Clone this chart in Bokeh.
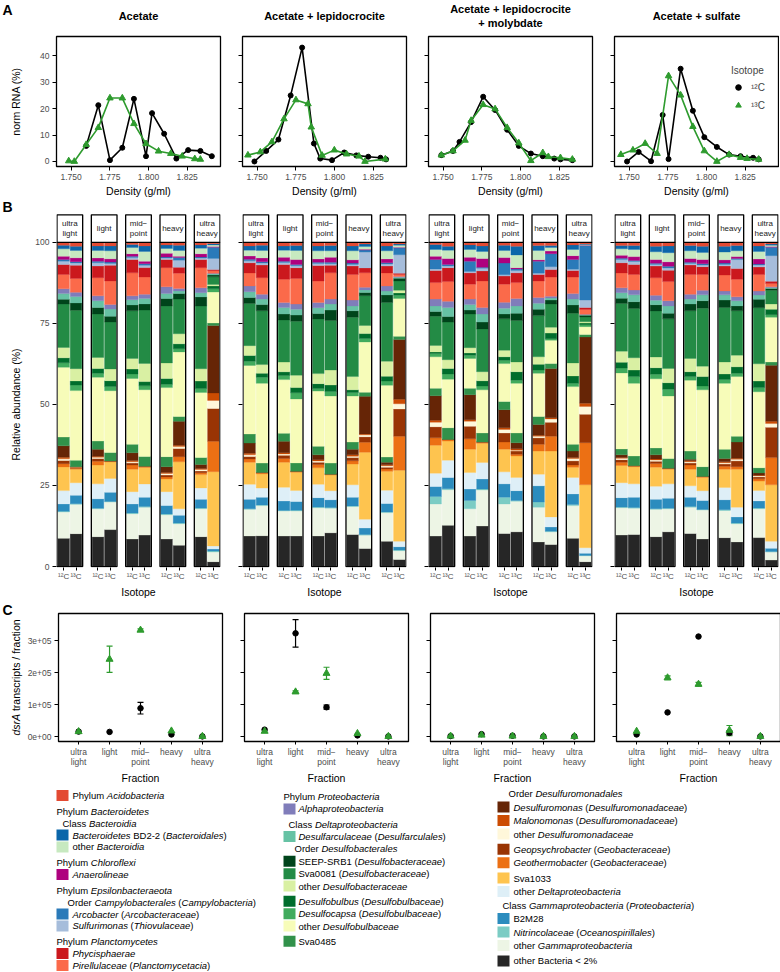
import math
from bokeh.plotting import figure
from bokeh.layouts import column, row
from bokeh.models import (ColumnDataSource, FactorRange, Range1d, FixedTicker,
                          NumeralTickFormatter, Legend, LegendItem, Whisker, TeeHead)
from bokeh.core.properties import value, field
from bokeh.embed import file_html
from bokeh.resources import INLINE

FONT = "Liberation Sans"
GREEN = "#2E9B2E"
TICK_GREY = "#4D4D4D"

# ---------------- shared categories ----------------
treatments = ["Acetate", "Acetate + lepidocrocite", "Acetate + lepidocrocite\n+ molybdate", "Acetate + sulfate"]
isotopes = ["\u00b9\u00b2C", "\u00b9\u00b3C"]

# ---------------- panel A : density profiles ----------------
a_xticks = [1.750, 1.775, 1.800, 1.825]
a_yticks = [0, 10, 20, 30, 40]

ac_d12 = [1.7598, 1.7676, 1.7751, 1.7831, 1.7906, 1.7984, 1.8023, 1.8101, 1.8180, 1.8256, 1.8335, 1.8409]
ac_r12 = [5.9, 21.3, 0.5, 5.2, 23.7, 2.0, 18.3, 10.5, 1.1, 4.3, 4.0, 2.0]
ac_d13 = [1.7485, 1.7521, 1.7598, 1.7676, 1.7751, 1.7831, 1.7906, 1.7984, 1.8065, 1.8144, 1.8218, 1.8299, 1.8335]
ac_r13 = [0.2, 0.0, 6.4, 12.8, 24.0, 24.0, 14.3, 6.7, 3.9, 3.0, 2.0, 1.0, 0.8]

lp_d12 = [1.7483, 1.7559, 1.7638, 1.7717, 1.7791, 1.7867, 1.7908, 1.7984, 1.8063, 1.8141, 1.8218, 1.8297, 1.8333]
lp_r12 = [0.0, 4.0, 8.3, 25.0, 43.1, 6.8, 1.1, 0.5, 3.4, 2.3, 1.8, 1.4, 0.8]
lp_d13 = [1.7441, 1.7521, 1.7596, 1.7674, 1.7751, 1.7829, 1.7850, 1.7920, 1.7999, 1.8078, 1.8158, 1.8197, 1.8328]
lp_r13 = [2.4, 3.6, 7.4, 16.1, 23.3, 21.8, 13.0, 2.3, 4.3, 2.8, 2.0, 0.0, 0.9]

mo_d12 = [1.7489, 1.7564, 1.7606, 1.7681, 1.7759, 1.7836, 1.7914, 1.7989, 1.8067, 1.8144, 1.8218, 1.8258, 1.8335]
mo_r12 = [2.4, 4.0, 7.4, 14.9, 24.5, 19.5, 12.0, 5.9, 3.0, 2.0, 1.1, 0.8, 0.5]
mo_d13 = [1.7489, 1.7564, 1.7642, 1.7681, 1.7759, 1.7836, 1.7914, 1.7989, 1.8067, 1.8144, 1.8180, 1.8258, 1.8335]
mo_r13 = [2.4, 4.0, 8.0, 15.5, 21.5, 19.9, 12.8, 7.0, 0.3, 3.3, 1.8, 1.4, 0.8]

su_d12 = [1.7487, 1.7562, 1.7642, 1.7717, 1.7755, 1.7833, 1.7912, 1.7986, 1.8067, 1.8146, 1.8220, 1.8301, 1.8337]
su_r12 = [0.0, 3.6, 0.1, 17.6, 0.9, 35.1, 19.2, 9.2, 5.5, 2.6, 2.0, 1.4, 0.8]
su_d13 = [1.7447, 1.7525, 1.7604, 1.7681, 1.7755, 1.7833, 1.7912, 1.7986, 1.8067, 1.8146, 1.8220, 1.8262, 1.8337]
su_r13 = [2.6, 4.3, 6.8, 3.0, 32.4, 25.1, 13.2, 4.0, 0.0, 2.6, 1.5, 1.1, 0.8]

# ---------------- panel B : community composition ----------------
b_fractions = ["ultra light", "light", "mid-point", "heavy", "ultra heavy"]
b_strip_labels = ["ultra\nlight", "light", "mid\u2212\npoint", "heavy", "ultra\nheavy"]
b_yticks = [0, 25, 50, 75, 100]

# taxa in stacking order (bottom -> top)
taxa = ["other Bacteria < 2%", "other Gammaproteobacteria", "Nitrincolaceae", "B2M28",
        "other Deltaproteobacteria", "Sva1033", "Geothermobacter", "Geopsychrobacter",
        "other Desulfuromonadaceae", "Malonomonas", "Desulfuromonas", "Sva0485",
        "other Desulfobulbaceae", "Desulfocapsa", "Desulfobulbus", "other Desulfobacteraceae",
        "Sva0081", "SEEP-SRB1", "Desulfarculaceae", "Alphaproteobacteria", "Pirellulaceae",
        "Phycisphaerae", "Sulfurimonas", "Arcobacter", "Anaerolineae", "other Bacteroidia",
        "Bacteroidetes BD2-2", "Acidobacteria"]
taxa_colors = ["#262626", "#EDF5E5", "#7BCCC4", "#2B8CBE", "#DEEFF7", "#FEC44F", "#EC7014",
               "#993404", "#FFF7DA", "#CC4C02", "#662506", "#31914A", "#F7FCB9", "#41AB5D",
               "#006D2C", "#D9F0A3", "#238B45", "#00441B", "#66C2A4", "#807DBA", "#FB6A4A",
               "#CB181D", "#A6BDDB", "#2A7AB9", "#AE017E", "#C7E9C0", "#0B66AA", "#E34A33"]

# Acetate
b_ac_ul_12 = [8.7, 8.1, 0.2, 2.3, 4.1, 7.3, 1.0, 1.0, 0.5, 0.5, 3.5, 2.7, 21.5, 1.4, 1.5, 3.2, 13.4, 1.5, 1.7, 1.5, 4.4, 3.1, 1.0, 0.5, 1.0, 2.3, 1.1, 0.9]
b_ac_ul_13 = [10.2, 9.1, 0.2, 2.6, 3.9, 4.2, 0.3, 0.2, 0.1, 0.1, 0.1, 2.0, 21.6, 1.7, 1.3, 3.8, 18.1, 2.3, 2.0, 1.3, 4.3, 4.1, 0.7, 0.4, 1.2, 2.3, 1.3, 1.2]
b_ac_li_12 = [9.2, 8.6, 0.2, 2.9, 4.6, 5.8, 1.2, 0.8, 0.4, 0.3, 2.2, 2.5, 19.7, 1.2, 1.5, 3.4, 13.4, 2.0, 2.1, 1.5, 5.6, 3.6, 1.0, 0.5, 1.0, 2.3, 1.4, 1.1]
b_ac_li_13 = [11.4, 8.5, 0.2, 2.8, 4.3, 5.1, 0.2, 0.1, 0.0, 0.0, 0.0, 2.6, 19.1, 1.3, 1.8, 3.6, 14.5, 1.8, 2.2, 1.4, 7.3, 4.8, 0.6, 0.4, 1.0, 2.5, 1.5, 1.1]
b_ac_mp_12 = [8.5, 7.8, 0.2, 2.8, 3.8, 6.9, 1.3, 0.6, 0.4, 0.4, 2.4, 2.6, 20.3, 1.4, 1.5, 3.3, 14.7, 1.8, 1.6, 1.2, 7.1, 4.1, 0.6, 0.4, 0.8, 1.9, 0.9, 0.7]
b_ac_mp_13 = [9.7, 8.6, 0.2, 2.9, 4.1, 5.1, 0.3, 0.1, 0.0, 0.0, 0.0, 3.0, 20.6, 1.2, 1.3, 5.6, 16.5, 1.9, 1.7, 1.3, 5.3, 2.9, 0.7, 0.5, 0.8, 3.0, 1.7, 1.1]
b_ac_he_12 = [8.5, 7.5, 0.2, 2.6, 4.3, 3.9, 0.6, 0.6, 0.5, 0.3, 1.8, 3.1, 21.3, 1.0, 1.8, 4.8, 17.6, 2.3, 1.5, 2.1, 5.9, 2.5, 0.5, 0.3, 1.1, 1.5, 1.1, 0.8]
b_ac_he_13 = [6.6, 6.6, 0.2, 2.4, 2.0, 14.5, 1.6, 2.5, 0.6, 0.4, 7.4, 1.5, 19.9, 1.0, 1.5, 3.1, 10.7, 1.7, 0.8, 0.8, 4.7, 1.8, 2.2, 0.8, 0.4, 1.8, 1.6, 0.9]
b_ac_uh_12 = [9.2, 8.6, 0.2, 2.7, 3.5, 4.1, 0.6, 0.5, 0.5, 0.3, 1.2, 2.2, 20.0, 1.2, 2.3, 3.8, 19.3, 2.8, 1.3, 1.5, 6.2, 2.5, 0.5, 0.3, 1.0, 1.7, 1.0, 0.8]
b_ac_uh_13 = [1.5, 3.0, 0.3, 0.6, 1.0, 23.0, 9.4, 10.2, 2.5, 2.3, 20.9, 0.8, 9.6, 1.0, 0.9, 0.4, 2.4, 0.6, 0.3, 0.2, 0.8, 0.4, 3.4, 3.5, 0.2, 0.5, 0.4, 0.4]
# Acetate + lepidocrocite
b_lp_ul_12 = [9.4, 8.2, 0.2, 2.9, 4.6, 6.8, 1.0, 0.8, 0.5, 0.5, 3.1, 2.8, 21.1, 1.3, 1.8, 3.0, 13.0, 1.8, 1.8, 1.8, 4.0, 3.1, 0.6, 0.5, 1.0, 1.8, 1.3, 1.1]
b_lp_ul_13 = [9.5, 9.3, 0.2, 2.4, 2.8, 4.4, 0.3, 0.1, 0.0, 0.0, 0.0, 2.9, 24.6, 1.9, 1.2, 2.7, 16.6, 1.9, 1.7, 1.5, 5.1, 3.9, 0.6, 0.4, 1.2, 2.3, 1.6, 0.9]
b_lp_li_12 = [9.4, 7.7, 0.2, 2.9, 4.2, 7.7, 1.2, 1.0, 0.4, 0.4, 3.5, 2.5, 16.5, 1.3, 1.1, 3.0, 13.0, 1.8, 2.0, 1.6, 7.1, 4.6, 0.6, 0.4, 1.2, 2.2, 1.3, 1.1]
b_lp_li_13 = [9.4, 7.7, 0.2, 2.7, 3.4, 5.6, 0.3, 0.0, 0.0, 0.0, 0.0, 2.6, 19.7, 1.9, 1.6, 3.8, 16.6, 1.9, 1.8, 1.6, 7.9, 3.3, 0.6, 0.4, 1.5, 2.8, 1.5, 1.0]
b_lp_mp_12 = [9.4, 8.7, 0.2, 2.9, 4.1, 5.1, 1.0, 0.7, 0.4, 0.4, 1.5, 2.6, 17.0, 0.8, 1.5, 3.1, 16.8, 1.7, 1.8, 1.6, 6.6, 4.8, 0.6, 0.4, 1.0, 2.5, 1.5, 1.1]
b_lp_mp_13 = [10.4, 7.6, 0.2, 2.4, 2.8, 4.8, 0.3, 0.0, 0.0, 0.0, 0.0, 3.4, 20.7, 1.4, 2.0, 4.6, 15.3, 3.2, 1.9, 1.5, 8.1, 2.3, 0.5, 0.5, 1.5, 2.0, 1.6, 1.0]
b_lp_he_12 = [9.9, 8.6, 0.2, 2.7, 3.8, 6.4, 1.0, 1.0, 0.4, 0.5, 1.7, 2.2, 14.2, 1.1, 0.8, 4.1, 18.3, 2.0, 1.5, 1.8, 7.9, 2.6, 0.5, 0.4, 1.0, 2.8, 1.5, 1.1]
b_lp_he_13 = [5.6, 4.1, 0.2, 2.0, 2.7, 20.7, 3.1, 1.7, 0.6, 0.3, 11.6, 1.3, 15.5, 1.1, 1.5, 2.5, 9.2, 1.0, 0.8, 0.8, 4.5, 1.5, 4.9, 0.6, 0.3, 0.8, 0.8, 0.5]
b_lp_uh_12 = [7.8, 8.8, 0.2, 2.6, 4.1, 5.8, 0.7, 0.6, 0.4, 0.3, 0.8, 1.6, 22.1, 1.3, 1.5, 4.6, 18.1, 2.3, 1.2, 1.6, 4.0, 2.1, 0.6, 0.4, 1.2, 2.5, 1.5, 1.1]
b_lp_uh_13 = [2.2, 2.7, 0.2, 1.0, 1.7, 21.9, 10.5, 8.4, 1.6, 1.4, 18.4, 1.0, 11.7, 1.0, 0.7, 0.8, 2.9, 0.8, 0.3, 0.3, 0.6, 0.4, 5.7, 2.1, 0.2, 0.6, 0.4, 0.5]
# Acetate + lepidocrocite + molybdate
b_mo_ul_12 = [9.4, 9.9, 2.3, 3.1, 4.1, 8.6, 2.3, 3.4, 1.4, 0.6, 7.6, 2.3, 9.7, 1.0, 0.5, 2.0, 9.0, 1.5, 1.7, 2.1, 5.1, 3.7, 0.5, 2.9, 1.0, 2.1, 1.5, 0.7]
b_mo_ul_13 = [12.7, 11.0, 0.3, 3.5, 5.3, 5.9, 0.5, 0.0, 0.0, 0.0, 0.0, 3.6, 15.0, 1.6, 1.7, 2.7, 11.6, 1.7, 2.8, 1.9, 6.1, 4.3, 0.5, 0.5, 1.8, 2.6, 1.2, 1.2]
b_mo_li_12 = [9.4, 8.4, 2.6, 3.5, 5.1, 7.2, 3.2, 3.9, 1.5, 0.5, 7.7, 2.0, 9.2, 1.0, 0.7, 1.6, 10.4, 1.2, 1.7, 1.7, 4.6, 3.5, 0.4, 3.2, 1.2, 2.4, 1.4, 0.8]
b_mo_li_13 = [12.5, 11.1, 0.3, 3.1, 5.1, 5.9, 0.4, 0.0, 0.0, 0.0, 0.0, 2.8, 13.3, 1.2, 1.6, 2.8, 13.2, 2.1, 2.5, 2.0, 8.2, 3.1, 0.8, 0.3, 2.7, 2.2, 1.7, 1.1]
b_mo_mp_12 = [10.2, 9.1, 2.1, 4.1, 3.7, 7.0, 2.2, 2.8, 1.1, 0.5, 5.6, 2.5, 11.7, 1.0, 1.1, 2.0, 9.7, 1.5, 1.8, 1.8, 5.6, 2.5, 0.4, 3.6, 1.7, 2.2, 1.6, 0.9]
b_mo_mp_13 = [10.7, 9.4, 0.3, 3.0, 4.1, 6.6, 0.5, 1.0, 0.3, 0.4, 1.9, 3.0, 15.3, 1.0, 2.6, 3.0, 12.8, 2.2, 2.3, 2.3, 4.9, 3.0, 0.7, 0.5, 0.4, 3.9, 2.7, 1.2]
b_mo_he_12 = [7.6, 10.7, 1.6, 5.0, 3.6, 7.1, 2.1, 2.0, 0.5, 0.3, 3.3, 2.5, 13.3, 1.0, 1.8, 2.3, 12.7, 2.0, 1.8, 1.8, 5.1, 2.0, 0.4, 3.7, 0.4, 2.9, 1.5, 1.0]
b_mo_he_13 = [6.8, 3.9, 0.2, 1.3, 3.1, 20.3, 4.6, 4.3, 1.0, 0.4, 15.2, 1.5, 7.2, 0.5, 1.7, 1.8, 7.2, 1.2, 0.6, 0.6, 5.9, 2.3, 0.9, 4.0, 0.8, 1.1, 0.6, 1.0]
b_mo_uh_12 = [8.7, 10.1, 0.3, 3.3, 5.1, 3.1, 0.7, 1.3, 0.7, 0.3, 2.0, 2.1, 17.8, 1.0, 2.3, 4.0, 15.3, 2.6, 1.8, 1.7, 5.1, 2.0, 0.4, 3.0, 1.2, 1.9, 1.4, 0.8]
b_mo_uh_13 = [1.5, 1.8, 0.1, 0.7, 1.7, 19.4, 13.0, 8.8, 2.4, 1.0, 20.4, 0.8, 2.4, 0.6, 0.5, 0.4, 1.5, 0.5, 0.2, 0.1, 1.5, 0.6, 2.3, 16.8, 0.1, 0.2, 0.2, 0.5]
# Acetate + sulfate
b_su_ul_12 = [9.7, 8.4, 0.2, 2.9, 4.6, 5.3, 1.0, 0.8, 0.4, 0.3, 0.8, 1.8, 23.4, 1.5, 1.8, 3.4, 14.7, 1.6, 1.7, 1.5, 4.6, 3.1, 1.0, 0.4, 0.9, 2.0, 1.0, 1.0]
b_su_ul_13 = [9.9, 8.1, 0.2, 3.2, 4.1, 5.3, 0.3, 0.0, 0.0, 0.0, 0.0, 3.0, 22.4, 2.1, 2.0, 3.8, 15.2, 2.1, 2.1, 1.5, 4.8, 3.1, 0.9, 0.3, 1.2, 2.2, 1.2, 1.0]
b_su_li_12 = [9.2, 8.4, 0.2, 2.9, 4.0, 5.9, 1.1, 0.7, 0.4, 0.3, 1.3, 2.1, 21.3, 1.4, 2.0, 3.3, 14.2, 1.9, 1.4, 1.5, 5.4, 3.6, 0.5, 0.4, 1.1, 2.4, 1.7, 1.2]
b_su_li_13 = [10.7, 7.1, 0.2, 3.1, 4.4, 4.5, 0.3, 0.0, 0.0, 0.0, 0.0, 3.0, 19.3, 2.1, 2.0, 4.4, 15.3, 1.7, 2.3, 1.6, 5.9, 3.5, 0.7, 0.5, 1.4, 2.8, 2.1, 1.1]
b_su_mp_12 = [10.2, 8.1, 0.2, 2.9, 3.5, 5.1, 1.3, 0.6, 0.4, 0.3, 0.5, 2.5, 21.9, 1.1, 1.5, 4.1, 14.7, 2.1, 1.5, 1.5, 6.1, 2.9, 0.5, 0.4, 1.1, 2.4, 1.6, 1.0]
b_su_mp_13 = [8.5, 8.9, 0.2, 2.8, 3.0, 4.1, 0.3, 0.0, 0.0, 0.0, 0.0, 3.0, 23.7, 1.2, 2.9, 3.2, 17.9, 2.3, 1.8, 1.4, 4.9, 2.4, 0.5, 0.4, 1.3, 2.2, 1.9, 1.2]
b_su_he_12 = [8.9, 8.4, 0.2, 3.1, 3.8, 5.6, 0.9, 0.7, 0.4, 0.3, 1.0, 2.9, 20.3, 1.2, 1.7, 3.7, 16.8, 2.3, 1.6, 1.2, 4.9, 2.8, 0.5, 0.4, 1.0, 2.4, 1.8, 1.2]
b_su_he_13 = [7.6, 5.6, 0.2, 1.9, 3.0, 11.7, 0.8, 1.8, 0.5, 0.3, 5.0, 1.8, 18.4, 1.0, 2.0, 3.6, 13.7, 1.5, 1.6, 1.2, 5.4, 3.3, 2.8, 0.3, 0.6, 1.8, 1.6, 1.0]
b_su_uh_12 = [8.9, 8.9, 0.2, 2.2, 3.2, 2.9, 0.7, 0.6, 0.3, 0.2, 0.7, 1.6, 23.4, 1.3, 2.0, 5.3, 17.3, 2.6, 1.3, 1.2, 5.1, 2.3, 0.6, 0.3, 1.6, 2.3, 1.7, 1.1]
b_su_uh_13 = [2.0, 2.5, 0.1, 1.0, 2.2, 17.4, 8.4, 9.4, 1.1, 0.7, 17.3, 1.0, 13.8, 0.8, 1.7, 1.6, 4.2, 0.6, 0.3, 0.2, 1.0, 0.7, 7.9, 2.6, 0.2, 0.4, 0.4, 0.5]

# ---------------- panel C : dsrA transcripts ----------------
c_fractions = ["ultra\nlight", "light", "mid\u2212\npoint", "heavy", "ultra\nheavy"]
c_yticks = [0, 100000, 200000, 300000]
c_ytick_labels = ["0e+00", "1e+05", "2e+05", "3e+05"]

c_ac_12 = [16000, 15000, 89000, 7000, 1000]
c_ac_12_lo = [16000, 15000, 71000, 7000, 1000]
c_ac_12_hi = [16000, 15000, 107000, 7000, 1000]
c_ac_13 = [16000, 242000, 333000, 18000, 1000]
c_ac_13_lo = [16000, 201000, 329000, 18000, 1000]
c_ac_13_hi = [16000, 283000, 337000, 18000, 1000]

c_lp_12 = [22000, 323000, 92000, 4000, 1000]
c_lp_12_lo = [22000, 280000, 86000, 4000, 1000]
c_lp_12_hi = [22000, 366000, 99000, 4000, 1000]
c_lp_13 = [17000, 140000, 198000, 10000, 1000]
c_lp_13_lo = [17000, 137000, 179000, 10000, 1000]
c_lp_13_hi = [17000, 143000, 217000, 10000, 1000]

c_mo_12 = [2000, 8000, 3000, 1000, 1000]
c_mo_12_lo = [2000, 8000, 3000, 1000, 1000]
c_mo_12_hi = [2000, 8000, 3000, 1000, 1000]
c_mo_13 = [2000, 5000, 2000, 1000, 1000]
c_mo_13_lo = [2000, 5000, 2000, 1000, 1000]
c_mo_13_hi = [2000, 5000, 2000, 1000, 1000]

c_su_12 = [7000, 76000, 313000, 12000, 1000]
c_su_12_lo = [7000, 76000, 313000, 6000, 1000]
c_su_12_hi = [7000, 76000, 313000, 18000, 1000]
c_su_13 = [17000, 184000, 164000, 20000, 1000]
c_su_13_lo = [17000, 178000, 158000, 3000, 1000]
c_su_13_hi = [17000, 190000, 170000, 35000, 1000]

# ---------------- grouping ----------------
A_DATA = [(ac_d12, ac_r12, ac_d13, ac_r13), (lp_d12, lp_r12, lp_d13, lp_r13),
          (mo_d12, mo_r12, mo_d13, mo_r13), (su_d12, su_r12, su_d13, su_r13)]
B_DATA = [
    [b_ac_ul_12, b_ac_ul_13, b_ac_li_12, b_ac_li_13, b_ac_mp_12, b_ac_mp_13, b_ac_he_12, b_ac_he_13, b_ac_uh_12, b_ac_uh_13],
    [b_lp_ul_12, b_lp_ul_13, b_lp_li_12, b_lp_li_13, b_lp_mp_12, b_lp_mp_13, b_lp_he_12, b_lp_he_13, b_lp_uh_12, b_lp_uh_13],
    [b_mo_ul_12, b_mo_ul_13, b_mo_li_12, b_mo_li_13, b_mo_mp_12, b_mo_mp_13, b_mo_he_12, b_mo_he_13, b_mo_uh_12, b_mo_uh_13],
    [b_su_ul_12, b_su_ul_13, b_su_li_12, b_su_li_13, b_su_mp_12, b_su_mp_13, b_su_he_12, b_su_he_13, b_su_uh_12, b_su_uh_13],
]
C_DATA = [
    (c_ac_12, c_ac_12_lo, c_ac_12_hi, c_ac_13, c_ac_13_lo, c_ac_13_hi),
    (c_lp_12, c_lp_12_lo, c_lp_12_hi, c_lp_13, c_lp_13_lo, c_lp_13_hi),
    (c_mo_12, c_mo_12_lo, c_mo_12_hi, c_mo_13, c_mo_13_lo, c_mo_13_hi),
    (c_su_12, c_su_12_lo, c_su_12_hi, c_su_13, c_su_13_lo, c_su_13_hi),
]

# ---------------- layout helpers ----------------
PAGE_W = 779
LEFT_W = 24
FRAME_W = 164
BORDERS = [(32, 11), (11, 11), (11, 11), (11, 1)]


def base_fig(i, frame_h, top, bottom, x_range, y_range, yticks):
    lb, rb = BORDERS[i]
    p = figure(frame_width=FRAME_W, frame_height=frame_h, min_border_left=lb, min_border_right=rb,
               min_border_top=top, min_border_bottom=bottom, x_range=x_range, y_range=y_range,
               output_backend="svg", toolbar_location=None)
    p.xgrid.grid_line_color = None
    p.ygrid.grid_line_color = None
    for ax in p.axis:
        ax.axis_line_color = None
        ax.major_tick_line_color = "black"
        ax.major_tick_line_width = 1
        ax.major_tick_out = 4
        ax.major_tick_in = 0
        ax.minor_tick_line_color = None
        ax.major_label_text_font = FONT
        ax.major_label_text_font_size = "8.5px"
        ax.major_label_text_color = TICK_GREY
        ax.major_label_standoff = 3
        ax.axis_label_text_font = FONT
        ax.axis_label_text_font_size = "10.5px"
        ax.axis_label_text_font_style = "normal"
        ax.axis_label_text_color = "black"
        ax.axis_label_standoff = 2
    p.yaxis.ticker = FixedTicker(ticks=yticks)
    if i > 0:
        p.yaxis.major_label_overrides = {t: "" for t in yticks}
    return p


def text_fig(width, height, flip=False):
    yr = Range1d(height, 0) if flip else Range1d(0, height)
    f = figure(width=width, height=height, x_range=Range1d(0, width), y_range=yr,
               min_border=0, x_axis_location=None, y_axis_location=None,
               output_backend="svg", toolbar_location=None)
    f.outline_line_color = None
    f.grid.visible = False
    return f


def put_text(f, x, y, text, size, style="normal", align="left", angle=0.0, line_height=1.2):
    f.text(x=[x], y=[y], text=[text], text_font=value(FONT), text_font_size=size,
           text_font_style=style, text_align=align, text_baseline="middle", angle=angle,
           text_line_height=line_height, text_color="black")


# ---------------- panel A ----------------
A_TOP, A_FH, A_BOT, A_HDR = 2, 130, 32, 34
a_figs = []
for i in range(4):
    d12, r12, d13, r13 = A_DATA[i]
    p = base_fig(i, A_FH, A_TOP, A_BOT, Range1d(1.7406, 1.8465), Range1d(-1.9, 47.3), a_yticks)
    p.outline_line_color = "black"
    p.outline_line_width = 1.3
    p.line(d12, r12, line_color="black", line_width=1.6)
    s12 = p.scatter(d12, r12, marker="circle", size=5, fill_color="black", line_color="black")
    p.line(d13, r13, line_color=GREEN, line_width=1.6)
    s13 = p.scatter(d13, r13, marker="triangle", size=6.5, fill_color=GREEN, line_color=GREEN)
    p.xaxis.ticker = FixedTicker(ticks=a_xticks)
    p.xaxis.formatter = NumeralTickFormatter(format="0.000")
    p.xaxis.axis_label = "Density (g/ml)"
    if i == 3:
        leg = Legend(items=[LegendItem(label=isotopes[0], renderers=[s12]),
                            LegendItem(label=isotopes[1], renderers=[s13])],
                     title="Isotope", location=(117, 54), orientation="vertical",
                     border_line_color=None, background_fill_alpha=0, padding=0, margin=0,
                     spacing=4, glyph_width=14, glyph_height=14, label_standoff=6,
                     label_text_font=FONT, label_text_font_size="10px",
                     title_text_font=FONT, title_text_font_size="10px",
                     title_text_font_style="normal", title_standoff=4)
        p.add_layout(leg)
    a_figs.append(p)

hdrA = text_fig(PAGE_W - LEFT_W, A_HDR)
for i in range(4):
    frame_left = sum(BORDERS[j][0] + FRAME_W + BORDERS[j][1] for j in range(i)) + BORDERS[i][0]
    put_text(hdrA, frame_left + FRAME_W / 2, A_HDR - 15.5, treatments[i], "11px",
             style="bold", align="center", line_height=1.18)

A_H = A_HDR + A_TOP + A_FH + A_BOT
leftA = text_fig(LEFT_W, A_H)
put_text(leftA, 2, A_H - 9, "A", "14px", style="bold")
put_text(leftA, 15, A_H - (A_HDR + A_TOP + A_FH / 2), "norm RNA (%)", "10.5px",
         align="center", angle=math.pi / 2)

# ---------------- panel B ----------------
B_TOP, B_FH, B_BOT = 14, 354, 34
B_Y0, B_Y1 = -0.3, 108.9
B_STRIP_TOP = 108.5
B_GP = 2.78  # spacing between facet starts in bar units
b_bar_x = [round(f * B_GP + k + 0.5, 2) for f in range(len(b_fractions)) for k in range(2)]
b_facet_x = [round(f * B_GP + 1.0, 2) for f in range(len(b_fractions))]
b_figs = []
for i in range(4):
    xr = Range1d(-0.08, (len(b_fractions) - 1) * B_GP + 2 + 0.08)
    p = base_fig(i, B_FH, B_TOP, B_BOT, xr, Range1d(B_Y0, B_Y1), b_yticks)
    p.outline_line_color = None
    bars = B_DATA[i]
    data = {"x": b_bar_x}
    keys = []
    for k in range(len(taxa)):
        key = "t%d" % k
        keys.append(key)
        data[key] = [bar[k] * 100.0 / sum(bar) for bar in bars]
    src = ColumnDataSource(data)
    p.vbar_stack(keys, x="x", width=0.94, color=taxa_colors, line_width=0.3, source=src)
    p.rect(x=b_facet_x, y=50, width=2.08, height=100, fill_color=None,
           line_color="black", line_width=1.3)
    p.rect(x=b_facet_x, y=(100 + B_STRIP_TOP) / 2, width=2.08, height=B_STRIP_TOP - 100,
           fill_color="white", line_color="black", line_width=1.3)
    p.text(x=b_facet_x, y=(100 + B_STRIP_TOP) / 2, text=b_strip_labels,
           text_align="center", text_baseline="middle", text_font=value(FONT),
           text_font_size="8px", text_color="#1A1A1A", text_line_height=1.1)
    p.xaxis.ticker = FixedTicker(ticks=b_bar_x)
    p.xaxis.major_label_overrides = {x: isotopes[j % 2] for j, x in enumerate(b_bar_x)}
    p.xaxis.major_tick_out = 3
    p.xaxis.major_label_standoff = 1
    p.xaxis.major_label_text_font_size = "8px"
    p.xaxis.axis_label = "Isotope"
    b_figs.append(p)

B_H = B_TOP + B_FH + B_BOT
leftB = text_fig(LEFT_W, B_H)
put_text(leftB, 2, B_H - 7, "B", "14px", style="bold")
px_per_unit = B_FH / (B_Y1 - B_Y0)
b_mid_from_bottom = B_BOT + (50 - B_Y0) * px_per_unit
put_text(leftB, 15, b_mid_from_bottom, "Relative abundance (%)", "10.5px",
         align="center", angle=math.pi / 2)

# ---------------- panel C ----------------
C_TOP, C_FH, C_BOT = 12, 128, 45
c_figs = []
for i in range(4):
    v12, lo12, hi12, v13, lo13, hi13 = C_DATA[i]
    xr = FactorRange(*c_fractions, range_padding=0.15, range_padding_units="absolute")
    p = base_fig(i, C_FH, C_TOP, C_BOT, xr, Range1d(-15000, 385000), c_yticks)
    p.outline_line_color = "black"
    p.outline_line_width = 1.3
    for vals, lo, hi, col in ((v12, lo12, hi12, "black"), (v13, lo13, hi13, GREEN)):
        idx = [j for j in range(len(vals)) if hi[j] - lo[j] > 0]
        if idx:
            wsrc = ColumnDataSource(dict(x=[c_fractions[j] for j in idx],
                                         lo=[lo[j] for j in idx], hi=[hi[j] for j in idx]))
            w = Whisker(base="x", lower="lo", upper="hi", source=wsrc, line_color=col, line_width=1.2,
                        upper_head=TeeHead(size=6, line_color=col, line_width=1.2),
                        lower_head=TeeHead(size=6, line_color=col, line_width=1.2))
            p.add_layout(w)
    p.scatter(c_fractions, v12, marker="circle", size=5.5, fill_color="black", line_color="black")
    p.scatter(c_fractions, v13, marker="triangle", size=7, fill_color=GREEN, line_color=GREEN)
    if i == 0:
        p.yaxis.major_label_overrides = {t: l for t, l in zip(c_yticks, c_ytick_labels)}
    p.xaxis.major_tick_out = 3
    p.xaxis.major_label_standoff = 2
    p.xaxis.major_label_text_line_height = 1.0
    p.xaxis.axis_label = "Fraction"
    c_figs.append(p)

C_H = C_TOP + C_FH + C_BOT
leftC = text_fig(LEFT_W, C_H)
put_text(leftC, 2, C_H - 8, "C", "14px", style="bold")
YT_FS = 10.5
part1, part2 = "dsrA", "transcripts / fraction"
w1 = sum({"d": 556, "s": 500, "r": 333, "A": 667}[c] for c in part1) * YT_FS / 1000.0
w_space = 278 * YT_FS / 1000.0
w2_chars = {"t": 278, "r": 333, "a": 556, "n": 556, "s": 500, "c": 500, "i": 222, "p": 556,
            " ": 278, "/": 278, "f": 278, "o": 556}
w2 = sum(w2_chars[c] for c in part2) * YT_FS / 1000.0
y_start = C_BOT + C_FH / 2 - (w1 + w_space + w2) / 2
put_text(leftC, 15, y_start, part1, "10.5px", style="italic", angle=math.pi / 2)
put_text(leftC, 15, y_start + w1 + w_space, part2, "10.5px", angle=math.pi / 2)

# ---------------- legend ----------------
AW = {}
for chars, wdt in [("'", 191), ("ijl", 222), (" !,./:;I[]ft", 278), ("()-r`", 333), ('"', 355),
                   ("*", 389), ("^", 469), ("Jcksvxyz", 500), ("#$0123456789?L_abdeghnopqu", 556),
                   ("+<=>~", 584), ("FTZ", 611), ("&ABEKPSVXY", 667), ("CDHNRUw", 722),
                   ("GOQ", 778), ("Mm", 833), ("%", 889), ("W", 944), ("@", 1015)]:
    for ch in chars:
        AW[ch] = wdt


def text_width(s, size):
    return sum(AW.get(c, 556) for c in s) * size / 1000.0


N, I = "normal", "italic"
leg_col1 = [
    ("item", [("Phylum ", N), ("Acidobacteria", I)], 27, False),
    ("h0", [("Phylum ", N), ("Bacteroidetes", I)], None, True),
    ("h1", [("Class ", N), ("Bacteroidia", I)], None, False),
    ("item", [("Bacteroidetes", I), (" BD2-2 (", N), ("Bacteroidales", I), (")", N)], 26, False),
    ("item", [("other ", N), ("Bacteroidia", I)], 25, False),
    ("h0", [("Phylum ", N), ("Chloroflexi", I)], None, True),
    ("item", [("Anaerolineae", I)], 24, False),
    ("h0", [("Phylum ", N), ("Epsilonbacteraeota", I)], None, True),
    ("h2", [("Order ", N), ("Campylobacterales", I), (" (", N), ("Campylobacteria", I), (")", N)], None, False),
    ("item", [("Arcobacter", I), (" (", N), ("Arcobacteraceae", I), (")", N)], 23, False),
    ("item", [("Sulfurimonas", I), (" (", N), ("Thiovulaceae", I), (")", N)], 22, False),
    ("h0", [("Phylum ", N), ("Planctomycetes", I)], None, True),
    ("item", [("Phycisphaerae", I)], 21, False),
    ("item", [("Pirellulaceae", I), (" (", N), ("Planctomycetacia", I), (")", N)], 20, False),
]
leg_col2 = [
    ("h0", [("Phylum ", N), ("Proteobacteria", I)], None, False),
    ("item", [("Alphaproteobacteria", I)], 19, False),
    ("h1", [("Class ", N), ("Deltaproteobacteria", I)], None, True),
    ("item", [("Desulfarculaceae", I), (" (", N), ("Desulfarculales", I), (")", N)], 18, False),
    ("h2", [("Order ", N), ("Desulfobacterales", I)], None, False),
    ("item", [("SEEP-SRB1 (", N), ("Desulfobacteraceae", I), (")", N)], 17, False),
    ("item", [("Sva0081 (", N), ("Desulfobacteraceae", I), (")", N)], 16, False),
    ("item", [("other ", N), ("Desulfobacteraceae", I)], 15, False),
    ("item", [("Desulfobulbus", I), (" (", N), ("Desulfobulbaceae", I), (")", N)], 14, True),
    ("item", [("Desulfocapsa", I), (" (", N), ("Desulfobulbaceae", I), (")", N)], 13, False),
    ("item", [("other ", N), ("Desulfobulbaceae", I)], 12, False),
    ("item", [("Sva0485", N)], 11, True),
]
leg_col3 = [
    ("h2", [("Order ", N), ("Desulfuromonadales", I)], None, False),
    ("item", [("Desulfuromonas", I), (" (", N), ("Desulfuromonadaceae", I), (")", N)], 10, False),
    ("item", [("Malonomonas", I), (" (", N), ("Desulfuromonadaceae", I), (")", N)], 9, False),
    ("item", [("other ", N), ("Desulfuromonadaceae", I)], 8, False),
    ("item", [("Geopsychrobacter", I), (" (", N), ("Geobacteraceae", I), (")", N)], 7, True),
    ("item", [("Geothermobacter", I), (" (", N), ("Geobacteraceae", I), (")", N)], 6, False),
    ("item", [("Sva1033", N)], 5, True),
    ("item", [("other ", N), ("Deltaproteobacteria", I)], 4, False),
    ("h1", [("Class ", N), ("Gammaproteobacteria", I), (" (", N), ("Proteobacteria", I), (")", N)], None, False),
    ("item", [("B2M28", N)], 3, False),
    ("item", [("Nitrincolaceae", I), (" (", N), ("Oceanospirillales", I), (")", N)], 2, False),
    ("item", [("other ", N), ("Gammaproteobacteria", I)], 1, False),
    ("item", [("other Bacteria < 2%", N)], 0, True),
]
LEG_H, LEG_FS = 185, 9.5
leg_cols = [
    (leg_col1, dict(box=56, text=72, h0=56, h1=62, h2=67, y0=9.0, step=11.9, gap=3.8)),
    (leg_col2, dict(box=283, text=298, h0=283, h1=288, h2=294, y0=10.0, step=12.4, gap=2.8)),
    (leg_col3, dict(box=497, text=513, h0=497, h1=502, h2=508, y0=7.0, step=13.5, gap=1.8)),
]
tx, ty, tt, ts = [], [], [], []
bx, by, bcol = [], [], []
for entries, g in leg_cols:
    y = g["y0"]
    for k, (kind, segs, ci, gap) in enumerate(entries):
        if k > 0:
            y += g["step"] + (g["gap"] if gap else 0.0)
        if kind == "item":
            x = g["text"]
            bx.append(g["box"] + 6)
            by.append(y)
            bcol.append(taxa_colors[ci])
        else:
            x = g[kind]
        for s, st in segs:
            stripped = s.lstrip(" ")
            x += text_width(s[:len(s) - len(stripped)], LEG_FS)
            tx.append(x)
            ty.append(y)
            tt.append(stripped)
            ts.append(st)
            x += text_width(stripped, LEG_FS)

legf = text_fig(PAGE_W, LEG_H, flip=True)
legf.rect(x=bx, y=by, width=12, height=11, fill_color=bcol, line_color=None)
legf.text(x="x", y="y", text="text", text_font_style=field("style"),
          source=ColumnDataSource(dict(x=tx, y=ty, text=tt, style=ts)),
          text_align="left", text_baseline="middle", text_font=value(FONT),
          text_font_size="%gpx" % LEG_FS, text_color="black")

page = column(
    row(leftA, column(hdrA, row(*a_figs))),
    row(leftB, row(*b_figs)),
    row(leftC, row(*c_figs)),
    legf,
)
open("out.html", "w").write(file_html(page, INLINE, title="SIP chart"))
